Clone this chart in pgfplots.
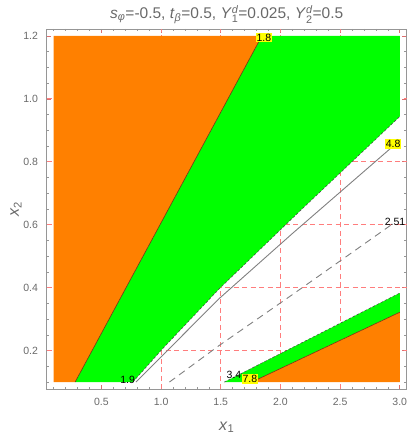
\documentclass[border=0pt]{standalone}
\usepackage{fontspec}
\setmainfont{Liberation Sans}
\usepackage{amsmath}
\usepackage{pgfplots}
\pgfplotsset{compat=1.18}
\usetikzlibrary{calc}
\definecolor{mmaorange}{rgb}{1,0.5,0}
\definecolor{mmagreen}{rgb}{0,1,0}
\definecolor{gridpink}{RGB}{255,125,125}
\definecolor{framegray}{RGB}{150,150,150}
\definecolor{labelgray}{RGB}{105,105,105}
\definecolor{tickred}{RGB}{220,110,110}
\definecolor{edgebrown}{RGB}{120,50,20}
\definecolor{edgegray}{RGB}{70,70,70}
\definecolor{contourgray}{RGB}{128,128,128}
\definecolor{labelyellow}{rgb}{1,1,0}

\begin{document}
\begin{tikzpicture}
\begin{axis}[
  scale only axis, width=360pt, height=360pt,
  xmin=0.042, xmax=3.058, ymin=0.078, ymax=1.222,
  xtick={0.5,1.0,1.5,2.0,2.5,3.0},
  xticklabels={0.5,1.0,1.5,2.0,2.5,3.0},
  ytick={0.2,0.4,0.6,0.8,1.0,1.2},
  yticklabels={0.2,0.4,0.6,0.8,1.0,1.2},
  minor xtick={0.1,0.2,0.3,0.4,0.6,0.7,0.8,0.9,1.1,1.2,1.3,1.4,1.6,1.7,1.8,1.9,2.1,2.2,2.3,2.4,2.6,2.7,2.8,2.9},
  minor ytick={0.1,0.15,0.25,0.3,0.35,0.45,0.5,0.55,0.65,0.7,0.75,0.85,0.9,0.95,1.05,1.1,1.15},
  extra x ticks={1.0,1.5,2.0,2.5},
  extra x tick labels={,,,},
  extra y ticks={0.2,0.4,0.6,0.8,1.0},
  extra y tick labels={,,,,},
  extra tick style={grid=major, major tick length=0pt},
  grid style={gridpink, line width=0.8pt, dash pattern=on 5pt off 3.5pt},
  major tick length=4.5pt, minor tick length=2.5pt,
  major tick style={tickred, line width=0.6pt},
  minor tick style={framegray, line width=0.5pt},
  axis line style={framegray, line width=0.6pt},
  ticklabel style={font=\fontsize{10.5}{12}\selectfont, labelgray},
  xticklabel style={anchor=base, yshift=-16pt},
  yticklabel style={xshift=-5.2pt},
  title={\textit{s}\textsubscript{\textit{φ}}=-0.5, \textit{t}\textsubscript{\textit{β}}=0.5, \textit{Y}$^{\textit{d}}_{\textrm{1}}$=0.025, \textit{Y}$^{\textit{d}}_{\textrm{2}}$=0.5},
  every axis title shift=0pt,
  title style={at={(0.5,1)}, anchor=base, yshift=10.7pt, font=\fontsize{15.5}{17}\selectfont, labelgray},
  xlabel={\textit{x}\textsubscript{1}},
  xlabel style={at={(0.5,0)}, anchor=base, yshift=-41pt, font=\fontsize{16}{18}\selectfont, labelgray},
  ylabel={\textit{x}\textsubscript{2}},
  ylabel style={at={(0,0.5)}, anchor=base, yshift=27.7pt, font=\fontsize{16}{18}\selectfont, labelgray},
]
\coordinate (sw) at (rel axis cs:0,0);
% upper left orange region
\addplot[fill=mmaorange, draw=none] coordinates {(0.1,0.1) (0.28,0.1) (1.845,1.2) (0.1,1.2)} -- cycle;
% upper green band
\addplot[fill=mmagreen, draw=none] coordinates {(0.28,0.1) (0.763,0.1) (1.013,0.206) (1.486,0.396) (2.153,0.640) (3.0,0.944) (3.0,1.2) (1.845,1.2)} -- cycle;
% lower green band
\addplot[fill=mmagreen, draw=none] coordinates {(1.53,0.1) (3.0,0.383) (3.0,0.322) (1.76,0.1)} -- cycle;
% lower right orange region
\addplot[fill=mmaorange, draw=none] coordinates {(1.76,0.1) (3.0,0.322) (3.0,0.1)} -- cycle;
% region edges
\addplot[edgebrown, line width=0.6pt] coordinates {(0.28,0.1) (1.845,1.2)};
\addplot[edgebrown, line width=0.6pt] coordinates {(1.76,0.1) (3.0,0.322)};
\addplot[edgegray, line width=0.5pt, dash pattern=on 2.5pt off 2pt] coordinates {(0.763,0.1) (1.013,0.206) (1.486,0.396) (2.153,0.640) (3.0,0.944)};
\addplot[edgegray, line width=0.5pt, dash pattern=on 2.5pt off 2pt] coordinates {(1.53,0.1) (3.0,0.383)};
% contour lines
\addplot[contourgray, line width=0.9pt] coordinates {(0.79,0.1) (1.486,0.365) (2.097,0.571) (2.93,0.845)};
\addplot[contourgray, line width=0.9pt, dash pattern=on 7pt off 5pt] coordinates {(1.07,0.1) (1.486,0.216) (2.097,0.377) (2.93,0.6)};
% contour labels
\node[fill=labelyellow, inner sep=1pt, font=\fontsize{10.5}{12}\selectfont] at (axis cs:1.861,1.195) {1.8};
\node[fill=labelyellow, inner sep=1pt, font=\fontsize{10.5}{12}\selectfont] at (axis cs:2.944,0.857) {4.8};
\node[inner sep=1pt, font=\fontsize{10.5}{12}\selectfont] at (axis cs:2.96,0.609) {2.51};
\node[inner sep=1pt, font=\fontsize{10.5}{12}\selectfont] at (axis cs:0.72,0.107) {1.9};
\node[inner sep=1pt, font=\fontsize{10.5}{12}\selectfont] at (axis cs:1.611,0.123) {3.4};
\node[fill=labelyellow, inner sep=1pt, font=\fontsize{10.5}{12}\selectfont] at (axis cs:1.744,0.11) {7.8};
\end{axis}
\pgfresetboundingbox
\path[use as bounding box] ($(sw)+(-46.7pt,-48pt)$) rectangle ++(409pt,437pt);
\end{tikzpicture}
\end{document}
